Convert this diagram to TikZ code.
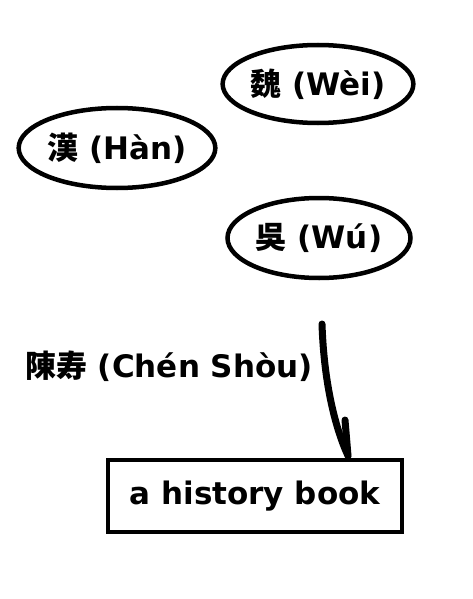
\documentclass[tikz,border=0pt]{standalone}
\usepackage{fontspec}
\setmainfont{DejaVu Sans}
\newfontfamily\cjk{Noto Sans CJK JP}
\usetikzlibrary{shapes.geometric}
\tikzset{
  base/.style={font=\fontsize{31}{37}\selectfont\bfseries},
  kingdom/.style={base, draw, ellipse, line width=4.5pt, inner sep=0pt},
  bookbox/.style={base, draw, rectangle, line width=4.5pt, inner sep=0pt},
  stroke/.style={line width=7pt, line cap=round, line join=round}
}
\begin{document}
\begin{tikzpicture}[x=1pt,y=-1pt]
\useasboundingbox (0,0) rectangle (473,599);
\node[kingdom, minimum width=179pt, minimum height=78pt] (wei) at (318,84) {{\cjk 魏} (Wèi)};
\node[kingdom, minimum width=190pt, minimum height=80pt] (han) at (117,148) {{\cjk 漢} (Hàn)};
\node[kingdom, minimum width=183pt, minimum height=80pt] (wu) at (319,238) {{\cjk 吳} (Wú)};
\node[base, anchor=base west, inner sep=0pt] (chen) at (25,377) {{\cjk 陳寿} (Chén Shòu)};
\node[bookbox, minimum width=294pt, minimum height=72pt] (book) at (255,496) {a history book};
\coordinate (start) at (322,324);
\coordinate (tip) at ([xshift=93pt,yshift=2pt]book.north);
\coordinate (barb) at (345,420);
\draw[stroke] (start) .. controls (324,385) and (336,430) .. (tip);
\draw[stroke] (barb) -- (tip);
\end{tikzpicture}
\end{document}
